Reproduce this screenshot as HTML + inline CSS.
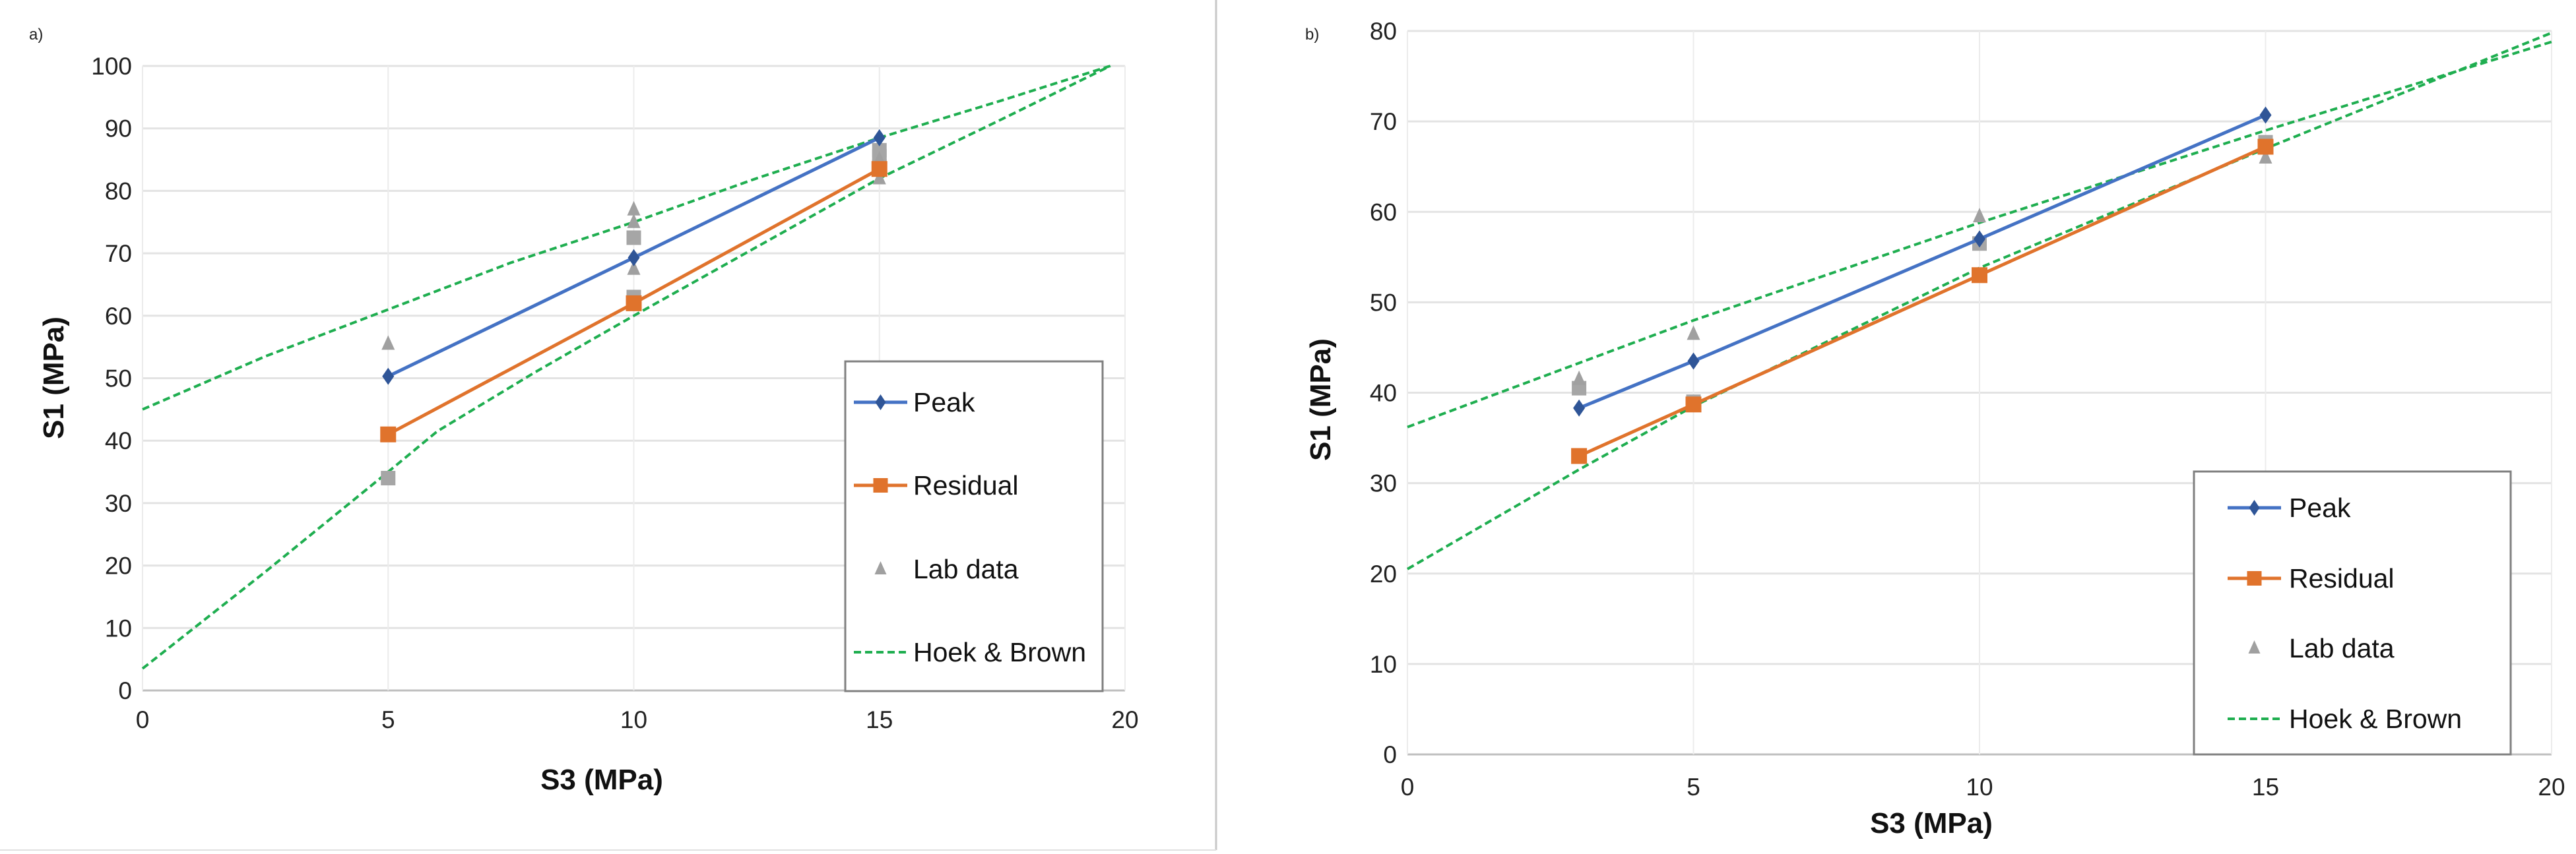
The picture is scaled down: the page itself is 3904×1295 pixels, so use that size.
<!DOCTYPE html>
<html><head><meta charset="utf-8"><style>
html,body{margin:0;padding:0;background:#fff;}
svg{display:block;font-family:"Liberation Sans",Arial,sans-serif;}
</style></head><body>
<svg id="root" width="3904" height="1295" viewBox="0 0 3904 1295">
<line x1="1843" y1="0" x2="1843" y2="1289" stroke="#c8c8c8" stroke-width="3"/>
<line x1="0" y1="1289" x2="1843" y2="1289" stroke="#e0e0e0" stroke-width="2"/>
<g id="chartA"></g>
<g id="chartB"></g>
</svg>
<script>
// ---- Chart a data ----
const aXTicks = [0,5,10,15,20];
const aYTicks = [0,10,20,30,40,50,60,70,80,90,100];
const aPeakX = [5,10,15];
const aPeakY = [50.3,69.3,88.5];
const aResX = [5,10,15];
const aResY = [41,62,83.5];
const aLabTriX = [5,10,10,10,15,15];
const aLabTriY = [55.5,77,75,67.5,85,82];
const aLabSqX = [5,10,10,10,15,15,15];
const aLabSqY = [34,72.5,63,62.5,86.5,85.5,84];
const aHBUpX = [0,2.5,5,7.5,10,12.5,15,17.5,19.7];
const aHBUpY = [45,53.5,61,68.5,75,82,88.5,94.5,100];
const aHBLoX = [0,2.5,5,6,8,10,12.5,15,17.5,19.7];
const aHBLoY = [3.5,19,35,41.5,51,60,71,82,91.5,100];
// ---- Chart b data ----
const bXTicks = [0,5,10,15,20];
const bYTicks = [0,10,20,30,40,50,60,70,80];
const bPeakX = [3,5,10,15];
const bPeakY = [38.3,43.5,57,70.7];
const bResX = [3,5,10,15];
const bResY = [33,38.7,53,67.2];
const bLabTriX = [3,5,10,15];
const bLabTriY = [41.5,46.5,59.5,66];
const bLabSqX = [3,5,10,15];
const bLabSqY = [40.5,39,56.5,67.7];
const bHBUpX = [0,5,10,15,20];
const bHBUpY = [36.2,48,58.8,69,78.8];
const bHBLoX = [0,3,5,10,15,20];
const bHBLoY = [20.5,31.5,38.5,53.8,67,79.8];

const NS="http://www.w3.org/2000/svg";
function mk(parent,tag,attrs,text){const e=document.createElementNS(NS,tag);for(const k in attrs)e.setAttribute(k,attrs[k]);if(text!==undefined)e.textContent=text;parent.appendChild(e);return e;}

function drawChart(g,cfg){
  const sx=v=>cfg.L+(v-cfg.xMin)/(cfg.xMax-cfg.xMin)*(cfg.R-cfg.L);
  const sy=v=>cfg.B-(v-cfg.yMin)/(cfg.yMax-cfg.yMin)*(cfg.B-cfg.T);
  cfg.yTicks.forEach(t=>{
    const l=mk(g,'line',{x1:cfg.L,x2:cfg.R,y1:sy(t),y2:sy(t),stroke:t===cfg.yMin?'#bfbfbf':'#e3e3e3','stroke-width':3});
    
    
    const tx=mk(g,'text',{x:cfg.L-16,y:sy(t)+13,'text-anchor':'end','font-size':37,fill:'#222'},String(t));
    
    
  });
  cfg.xTicks.forEach(t=>{
    const l=mk(g,'line',{x1:sx(t),x2:sx(t),y1:cfg.T,y2:cfg.B,stroke:'#ececec','stroke-width':2});
    
    
    const tx=mk(g,'text',{x:sx(t),y:cfg.xTickY,'text-anchor':'middle','font-size':37,fill:'#222'},String(t));
    
    
  });
  const pts=(X,Y)=>X.map((x,i)=>sx(x)+','+sy(Y[i])).join(' ');
  const hb1=mk(g,'polyline',{points:pts(cfg.hbUpX,cfg.hbUpY),fill:'none',stroke:'#1fae50','stroke-width':4,'stroke-dasharray':'11 6'});
  
  
  const hb2=mk(g,'polyline',{points:pts(cfg.hbLoX,cfg.hbLoY),fill:'none',stroke:'#1fae50','stroke-width':4,'stroke-dasharray':'11 6'});
  
  
  cfg.sqX.forEach((x,i)=>{
    const r=mk(g,'rect',{x:sx(x)-11,y:sy(cfg.sqY[i])-11,width:22,height:22,fill:'#a6a6a6'});
    
    
  });
  cfg.triX.forEach((x,i)=>{
    const cx=sx(x),cy=sy(cfg.triY[i]);
    const p=mk(g,'polygon',{points:`${cx},${cy-13} ${cx-10},${cy+9} ${cx+10},${cy+9}`,fill:'#a0a0a0'});
    
    
  });
  const rl=mk(g,'polyline',{points:pts(cfg.resX,cfg.resY),fill:'none',stroke:'#e0732c','stroke-width':5});
  
  
  cfg.resX.forEach((x,i)=>{
    const r=mk(g,'rect',{x:sx(x)-12,y:sy(cfg.resY[i])-12,width:24,height:24,fill:'#e0732c'});
    
    
  });
  const pl=mk(g,'polyline',{points:pts(cfg.peakX,cfg.peakY),fill:'none',stroke:'#4472c4','stroke-width':5});
  
  
  cfg.peakX.forEach((x,i)=>{
    const cx=sx(x),cy=sy(cfg.peakY[i]);
    const p=mk(g,'polygon',{points:`${cx},${cy-13} ${cx+9},${cy} ${cx},${cy+13} ${cx-9},${cy}`,fill:'#2f5597'});
    
    
  });
  // legend
  const lg=cfg.leg;
  const box=mk(g,'rect',{x:lg.x,y:lg.y,width:lg.w,height:lg.h,fill:'#fff',stroke:'#808080','stroke-width':3});
  
  
  const names=['Peak','Residual','Lab data','Hoek & Brown'];
  names.forEach((n,i)=>{
    const y=lg.rows[i];
    const ent=mk(g,'g',{});
    
    
    if(i===0){mk(ent,'line',{x1:lg.lx1,x2:lg.lx2,y1:y,y2:y,stroke:'#4472c4','stroke-width':5});const c=(lg.lx1+lg.lx2)/2;mk(ent,'polygon',{points:`${c},${y-12} ${c+8},${y} ${c},${y+12} ${c-8},${y}`,fill:'#2f5597'});}
    if(i===1){mk(ent,'line',{x1:lg.lx1,x2:lg.lx2,y1:y,y2:y,stroke:'#e0732c','stroke-width':5});const c=(lg.lx1+lg.lx2)/2;mk(ent,'rect',{x:c-11,y:y-11,width:22,height:22,fill:'#e0732c'});}
    if(i===2){const c=(lg.lx1+lg.lx2)/2;mk(ent,'polygon',{points:`${c},${y-12} ${c-9},${y+8} ${c+9},${y+8}`,fill:'#a0a0a0'});}
    if(i===3){mk(ent,'line',{x1:lg.lx1,x2:lg.lx2,y1:y,y2:y,stroke:'#1fae50','stroke-width':4,'stroke-dasharray':'11 6'});}
    mk(ent,'text',{x:lg.tx,y:y+14,'font-size':41,fill:'#111'},n);
  });
  const lab=mk(g,'text',{x:cfg.labX,y:cfg.labY,'font-size':24,fill:'#222'},cfg.label);
  
  
  const yt=mk(g,'text',{x:cfg.ytX,y:cfg.ytY,'font-size':44,'font-weight':'bold','text-anchor':'middle',fill:'#111',transform:`rotate(-90 ${cfg.ytX} ${cfg.ytY})`},'S1 (MPa)');
  
  
  const xt=mk(g,'text',{x:cfg.xtX,y:cfg.xtY,'font-size':44,'font-weight':'bold','text-anchor':'middle',fill:'#111'},'S3 (MPa)');
  
  
}

drawChart(document.getElementById('chartA'),{
  L:216,R:1705,T:100,B:1047,xMin:0,xMax:20,yMin:0,yMax:100,xTicks:aXTicks,yTicks:aYTicks,xTickY:1104,
  peakX:aPeakX,peakY:aPeakY,resX:aResX,resY:aResY,triX:aLabTriX,triY:aLabTriY,sqX:aLabSqX,sqY:aLabSqY,
  hbUpX:aHBUpX,hbUpY:aHBUpY,hbLoX:aHBLoX,hbLoY:aHBLoY,
  leg:{x:1281,y:548,w:390,h:500,rows:[610,736,863,989],lx1:1294,lx2:1375,tx:1384},
  label:'a)',labX:44,labY:60,ytX:96,ytY:573,xtX:912,xtY:1197
});
drawChart(document.getElementById('chartB'),{
  L:2133,R:3867,T:47,B:1144,xMin:0,xMax:20,yMin:0,yMax:80,xTicks:bXTicks,yTicks:bYTicks,xTickY:1206,
  peakX:bPeakX,peakY:bPeakY,resX:bResX,resY:bResY,triX:bLabTriX,triY:bLabTriY,sqX:bLabSqX,sqY:bLabSqY,
  hbUpX:bHBUpX,hbUpY:bHBUpY,hbLoX:bHBLoX,hbLoY:bHBLoY,
  leg:{x:3325,y:715,w:480,h:429,rows:[770,877,983,1090],lx1:3376,lx2:3457,tx:3469},
  label:'b)',labX:1978,labY:60,ytX:2016,ytY:606,xtX:2927,xtY:1263
});
</script>
</body></html>
